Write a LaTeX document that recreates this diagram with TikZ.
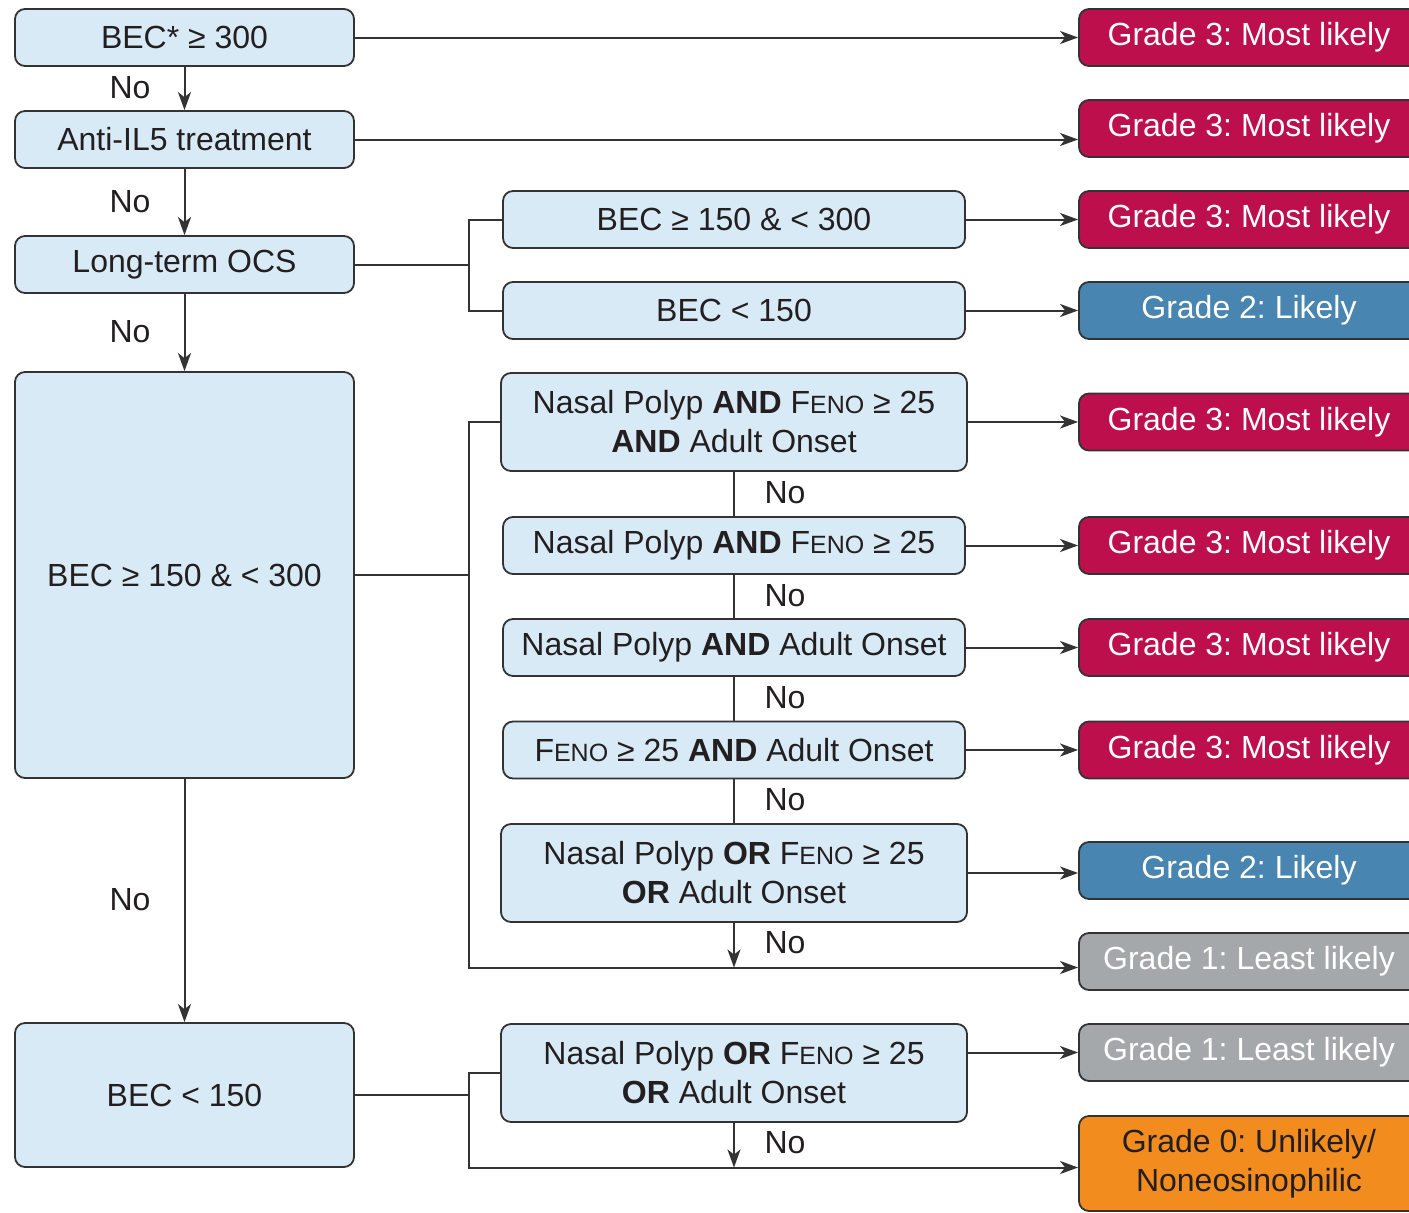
\documentclass[tikz,border=0pt]{standalone}
\usepackage{fontspec}
\setmainfont{Liberation Sans}
\usetikzlibrary{arrows.meta}
\definecolor{boxblue}{HTML}{D7EAF6}
\definecolor{gred}{HTML}{BD0F4B}
\definecolor{gblue}{HTML}{4885B0}
\definecolor{ggray}{HTML}{A5A8AB}
\definecolor{gorange}{HTML}{F28C1F}
\definecolor{edge}{HTML}{333333}
\definecolor{txt}{HTML}{231F20}
\newcommand\feno{F{\fontsize{25}{25}\selectfont ENO}}
\frenchspacing
\tikzset{
  base/.style={draw=edge, line width=1.8pt, rounded corners=10pt, inner sep=0pt, align=center,
    font=\fontsize{32}{39}\selectfont, text=txt},
  lbox/.style={base, fill=boxblue, minimum width=339pt, minimum height=57pt},
  mbox/.style={base, fill=boxblue, minimum width=462pt, minimum height=57pt},
  mbox2/.style={base, fill=boxblue, minimum width=466pt, minimum height=98pt},
  gbox/.style={base, minimum width=340pt, minimum height=57pt, text=white},
  conn/.style={line width=2pt, draw=edge},
  arr/.style={conn, -{Stealth[length=18pt,width=13pt,inset=5pt]}},
  nolab/.style={font=\fontsize{32}{39}\selectfont, text=txt, inner sep=0pt}
}
\begin{document}
\begin{tikzpicture}[x=1pt,y=-1pt]
\useasboundingbox (0,0) rectangle (1409,1213);
\clip (0,0) rectangle (1409,1213);
\fill[white] (0,0) rectangle (1409,1213);
% left column
\node[lbox] (B1) at (184.5,37.5) {BEC* ≥ 300};
\node[lbox] (B2) at (184.5,139.5) {Anti-IL5 treatment};
\node[lbox] (B3) at (184.5,264.5) {Long-term OCS};
\node[lbox, minimum height=406pt] (B4) at (184.5,575) {BEC ≥ 150 \& < 300};
\node[lbox, minimum height=144pt] (B5) at (184.5,1095) {BEC < 150};
% middle column
\node[mbox] (M1) at (734,219.5) {BEC ≥ 150 \& < 300};
\node[mbox] (M2) at (734,310.5) {BEC < 150};
\node[mbox2] (M3) at (734,422) {Nasal Polyp \textbf{AND} \feno{} ≥ 25\\\textbf{AND} Adult Onset};
\node[mbox] (M4) at (734,545.5) {Nasal Polyp \textbf{AND} \feno{} ≥ 25};
\node[mbox] (M5) at (734,647.5) {Nasal Polyp \textbf{AND} Adult Onset};
\node[mbox] (M6) at (734,750) {\feno{} ≥ 25 \textbf{AND} Adult Onset};
\node[mbox2] (M7) at (734,873) {Nasal Polyp \textbf{OR} \feno{} ≥ 25\\\textbf{OR} Adult Onset};
\node[mbox2] (M8) at (734,1073) {Nasal Polyp \textbf{OR} \feno{} ≥ 25\\\textbf{OR} Adult Onset};
% grade column
\node[gbox, fill=gred] (G1) at (1249,37.5) {Grade 3: Most likely};
\node[gbox, fill=gred] (G2) at (1249,128.5) {Grade 3: Most likely};
\node[gbox, fill=gred] (G3) at (1249,219.5) {Grade 3: Most likely};
\node[gbox, fill=gblue] (G4) at (1249,310.5) {Grade 2: Likely};
\node[gbox, fill=gred] (G5) at (1249,422) {Grade 3: Most likely};
\node[gbox, fill=gred] (G6) at (1249,545.5) {Grade 3: Most likely};
\node[gbox, fill=gred] (G7) at (1249,647.5) {Grade 3: Most likely};
\node[gbox, fill=gred] (G8) at (1249,750) {Grade 3: Most likely};
\node[gbox, fill=gblue] (G9) at (1249,870.5) {Grade 2: Likely};
\node[gbox, fill=ggray] (G10) at (1249,961.5) {Grade 1: Least likely};
\node[gbox, fill=ggray] (G11) at (1249,1052.5) {Grade 1: Least likely};
\node[gbox, fill=gorange, text=txt, minimum height=95pt] (G12) at (1249,1163.5) {Grade 0: Unlikely/\\Noneosinophilic};
% junction coordinates
\coordinate (s1) at (469,264.5);
\coordinate (s2) at (469,575);
\coordinate (s3) at (469,1095);
\coordinate (j1) at (734,967.5);
\coordinate (j2) at (734,1167.5);
% left chain
\draw[arr] (B1.south) -- (B2.north);
\draw[arr] (B2.south) -- (B3.north);
\draw[arr] (B3.south) -- (B4.north);
\draw[arr] (B4.south) -- (B5.north);
\node[nolab] (n1) at (130,88) {No};
\node[nolab] (n2) at (130,202) {No};
\node[nolab] (n3) at (130,332) {No};
\node[nolab] (n4) at (130,900) {No};
% top arrows
\draw[arr] (B1.east) -- (B1.east -| G1.west);
\draw[arr] (B2.east) -- (B2.east -| G2.west);
% OCS branch
\draw[conn] (B3.east) -- (s1);
\draw[conn] (M1.west) -| (s1) |- (M2.west);
\draw[arr] (M1.east) -- (M1.east -| G3.west);
\draw[arr] (M2.east) -- (M2.east -| G4.west);
% BEC 150-300 branch
\draw[conn] (B4.east) -- (s2);
\draw[arr] (M3.west) -| (s2) |- (j1 -| G10.west);
\draw[conn] (M3.south) -- (M4.north);
\draw[conn] (M4.south) -- (M5.north);
\draw[conn] (M5.south) -- (M6.north);
\draw[conn] (M6.south) -- (M7.north);
\draw[arr] (M7.south) -- (j1);
\node[nolab] (n5) at (785,493) {No};
\node[nolab] (n6) at (785,596) {No};
\node[nolab] (n7) at (785,698) {No};
\node[nolab] (n8) at (785,800) {No};
\node[nolab] (n9) at (785,943) {No};
\draw[arr] (M3.east) -- (M3.east -| G5.west);
\draw[arr] (M4.east) -- (M4.east -| G6.west);
\draw[arr] (M5.east) -- (M5.east -| G7.west);
\draw[arr] (M6.east) -- (M6.east -| G8.west);
\draw[arr] (M7.east) -- (M7.east -| G9.west);
% BEC < 150 branch
\draw[conn] (B5.east) -- (s3);
\draw[arr] (M8.west) -| (s3) |- (j2 -| G12.west);
\draw[arr] (M8.south) -- (j2);
\node[nolab] (n10) at (785,1143) {No};
\draw[arr] (M8.east |- G11.west) -- (G11.west);
\end{tikzpicture}
\end{document}
